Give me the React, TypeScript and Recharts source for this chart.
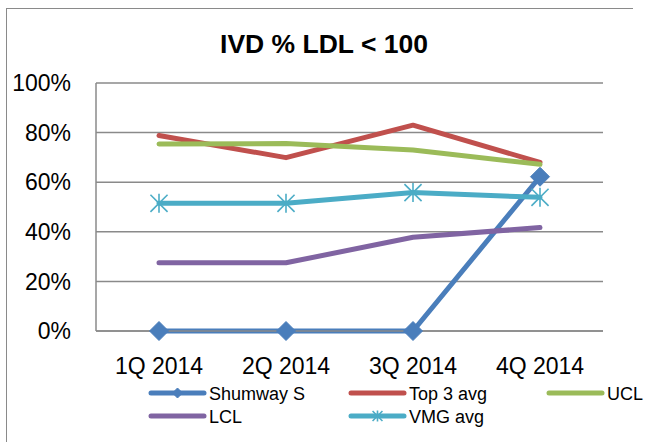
import React from 'react';
import { LineChart, Line, XAxis, YAxis, CartesianGrid } from 'recharts';

const categories = ['1Q 2014', '2Q 2014', '3Q 2014', '4Q 2014'];
const shumwayS = [0, 0, 0, 62.2];
const top3Avg = [78.8, 69.9, 83.0, 68.0];
const ucl = [75.4, 75.6, 73.0, 67.2];
const lcl = [27.5, 27.5, 37.8, 41.7];
const vmgAvg = [51.5, 51.5, 55.8, 53.9];
const yTicks = [0, 20, 40, 60, 80, 100];
const title = 'IVD % LDL < 100';

type Series = {
  key: string;
  name: string;
  color: string;
  values: number[];
  marker: 'diamond' | 'star' | 'none';
};

const series: Series[] = [
  { key: 'shumway', name: 'Shumway S', color: '#4A7EBB', values: shumwayS, marker: 'diamond' },
  { key: 'top3', name: 'Top 3 avg', color: '#C0504D', values: top3Avg, marker: 'none' },
  { key: 'ucl', name: 'UCL', color: '#9BBB59', values: ucl, marker: 'none' },
  { key: 'lcl', name: 'LCL', color: '#8064A2', values: lcl, marker: 'none' },
  { key: 'vmg', name: 'VMG avg', color: '#4BACC6', values: vmgAvg, marker: 'star' },
];

const data = categories.map((c, i) => {
  const row: Record<string, string | number> = { cat: c };
  series.forEach((s) => {
    row[s.key] = s.values[i];
  });
  return row;
});

const FONT = '"Liberation Sans", Arial, sans-serif';
const GRID = '#8A8A8A';

const Diamond = (r: number, color: string) => (props: any) => {
  const { cx, cy, index } = props;
  if (cx == null || cy == null) return <g key={index} />;
  return (
    <polygon
      key={index}
      points={`${cx},${cy - r} ${cx + r},${cy} ${cx},${cy + r} ${cx - r},${cy}`}
      fill={color}
      stroke={color}
      strokeWidth={1}
    />
  );
};

const Star = (r: number, color: string) => (props: any) => {
  const { cx, cy, index } = props;
  if (cx == null || cy == null) return <g key={index} />;
  const d = r * 0.9;
  return (
    <g key={index} stroke={color} strokeWidth={1.6} fill="none">
      <line x1={cx} y1={cy - r} x2={cx} y2={cy + r} />
      <line x1={cx - d} y1={cy - d} x2={cx + d} y2={cy + d} />
      <line x1={cx - d} y1={cy + d} x2={cx + d} y2={cy - d} />
    </g>
  );
};

const legendCols = [149, 349, 547];
const legendRows = [393, 416];

export default function App() {
  return (
    <div
      style={{
        position: 'fixed',
        left: 0,
        top: 0,
        width: 646,
        height: 442,
        background: '#fff',
        overflow: 'hidden',
        fontFamily: FONT,
      }}
    >
      <div style={{ position: 'absolute', left: 0, top: 0, width: 633, height: 442, overflow: 'hidden' }}>
        <div
          style={{
            position: 'absolute',
            left: 6,
            top: 8,
            width: 700,
            height: 500,
            borderLeft: `1.5px solid ${GRID}`,
            borderTop: `1.5px solid ${GRID}`,
          }}
        />
      </div>
      <div style={{ position: 'absolute', left: 0, top: 0 }}>
        <LineChart
          width={633}
          height={442}
          data={data}
          margin={{ top: 83, right: 30, bottom: 71, left: 0 }}
        >
          <CartesianGrid vertical={false} stroke={GRID} strokeWidth={1.5} />
          <XAxis
            dataKey="cat"
            height={40}
            axisLine={{ stroke: GRID, strokeWidth: 1.5 }}
            tickLine={false}
            tickSize={0}
            tickMargin={27}
            padding={{ left: 63, right: 63 }}
            tick={{ fill: '#000', fontSize: 23, fontFamily: FONT }}
            interval={0}
          />
          <YAxis
            width={96}
            domain={[0, 100]}
            ticks={yTicks}
            tickFormatter={(v: number) => `${v}%`}
            axisLine={{ stroke: GRID, strokeWidth: 1.5 }}
            tickLine={false}
            tickSize={0}
            tickMargin={25}
            tick={{ fill: '#000', fontSize: 23, fontFamily: FONT }}
            interval={0}
          />
          {series.map((s) => (
            <Line
              key={s.key}
              dataKey={s.key}
              name={s.name}
              type="linear"
              stroke={s.color}
              strokeWidth={5}
              strokeLinecap="round"
              strokeLinejoin="round"
              isAnimationActive={false}
              dot={
                s.marker === 'diamond'
                  ? Diamond(9.5, s.color)
                  : s.marker === 'star'
                  ? Star(9.5, s.color)
                  : false
              }
              activeDot={false}
            />
          ))}
        </LineChart>
      </div>
      <svg
        width={646}
        height={442}
        style={{ position: 'absolute', left: 0, top: 0, pointerEvents: 'none' }}
      >
        <text
          x={324}
          y={53}
          textAnchor="middle"
          fontFamily={FONT}
          fontWeight="bold"
          fontSize={26.5}
          fill="#000"
        >
          {title}
        </text>
        {series.map((s, i) => {
          const x = legendCols[i % 3];
          const y = legendRows[Math.floor(i / 3)];
          return (
            <g key={s.key}>
              <line
                x1={x + 2}
                y1={y}
                x2={x + 55}
                y2={y}
                stroke={s.color}
                strokeWidth={5}
                strokeLinecap="round"
              />
              {s.marker === 'diamond' &&
                Diamond(5, s.color)({ cx: x + 28.5, cy: y, index: 0 })}
              {s.marker === 'star' && Star(5.5, s.color)({ cx: x + 28.5, cy: y, index: 0 })}
              <text x={x + 60} y={y + 6.5} fontFamily={FONT} fontSize={18} fill="#000">
                {s.name}
              </text>
            </g>
          );
        })}
      </svg>
    </div>
  );
}
